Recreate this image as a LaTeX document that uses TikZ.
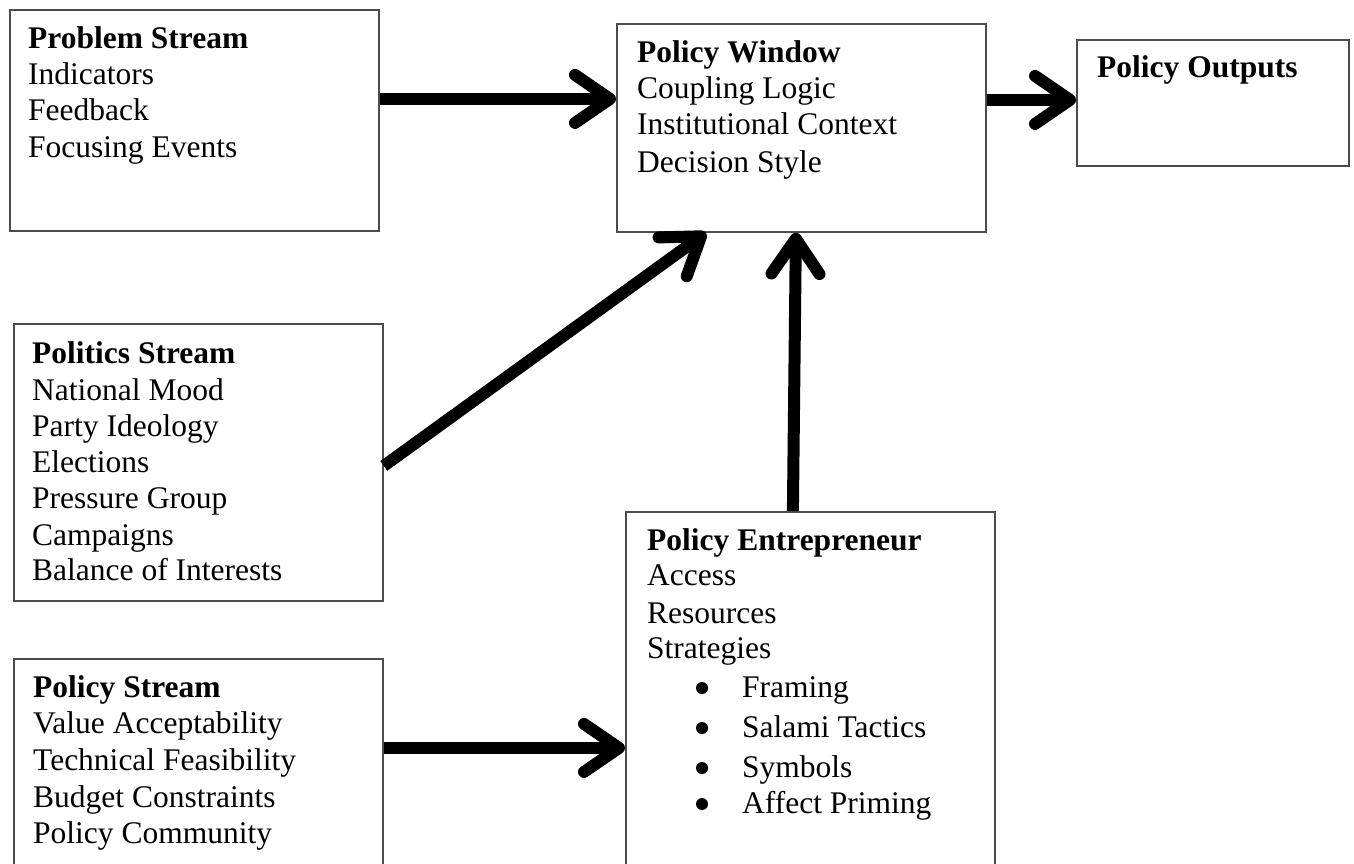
\documentclass[tikz,border=0pt]{standalone}
\usepackage{fontspec}
\setmainfont{Liberation Serif}
\usetikzlibrary{arrows.meta}
\begin{document}
\begin{tikzpicture}[x=1pt,y=-1pt,
  box/.style={draw=black!70, line width=1.8pt, rectangle, anchor=north west, inner sep=0pt},
  txt/.style={anchor=base west, inner sep=0pt, font=\fontsize{31.5}{36}\selectfont},
  head/.style={anchor=base west, inner sep=0pt, font=\fontsize{31.5}{36}\selectfont\bfseries},
  flow/.style={line width=12pt, -{Straight Barb[length=35pt,width=48pt,line cap=round,line join=round]}},
  bul/.style={circle, fill=black, inner sep=0pt, minimum size=12pt}]
\clip (0,0) rectangle (1354,863);
\fill[white] (0,0) rectangle (1354,863);

% boxes
\node[box, minimum width=369pt, minimum height=221pt] (prob) at (9,9) {};
\node[box, minimum width=369pt, minimum height=208pt] (win) at (616,23) {};
\node[box, minimum width=272pt, minimum height=126pt] (out) at (1076,39) {};
\node[box, minimum width=369pt, minimum height=277pt] (pol) at (13,323) {};
\node[box, minimum width=369pt, minimum height=380pt] (ent) at (625,511) {};
\node[box, minimum width=369pt, minimum height=233pt] (pst) at (13,658) {};

% Problem stream
\node[head] (prob-h) at (28,48) {Problem Stream};
\foreach \y/\t [count=\i] in {84/Indicators, 120/Feedback, 157/Focusing Events}
  \node[txt] (prob-\i) at (28,\y) {\t};

% Policy window
\node[head] (win-h) at (637,62) {Policy Window};
\foreach \y/\t [count=\i] in {98/Coupling Logic, 134/Institutional Context, 172/Decision Style}
  \node[txt] (win-\i) at (637,\y) {\t};

% Policy outputs
\node[head] (out-h) at (1097,77) {Policy Outputs};

% Politics stream
\node[head] (pol-h) at (32,363) {Politics Stream};
\foreach \y/\t [count=\i] in {400/National Mood, 436/Party Ideology, 472/Elections,
    508/Pressure Group, 545/Campaigns, 580/Balance of Interests}
  \node[txt] (pol-\i) at (32,\y) {\t};

% Policy entrepreneur, with a bulleted list of strategies
\node[head] (ent-h) at (647,550) {Policy Entrepreneur};
\foreach \y/\t [count=\i] in {585/Access, 623/Resources, 658/Strategies}
  \node[txt] (ent-\i) at (647,\y) {\t};
\foreach \y/\t [count=\i] in {697/Framing, 737/Salami Tactics, 777/Symbols, 813/Affect Priming}{
  \node[bul] (ent-b\i) at (702,\y-9) {};
  \node[txt] (ent-s\i) at (742,\y) {\t};
}

% Policy stream
\node[head] (pst-h) at (33,697) {Policy Stream};
\foreach \y/\t [count=\i] in {733/Value Acceptability, 770/Technical Feasibility,
    807/Budget Constraints, 843/Policy Community}
  \node[txt] (pst-\i) at (33,\y) {\t};

% connectors
\draw[flow] ([yshift=21.5pt]prob.east) -- ([yshift=29pt]win.west);
\draw[flow] ([yshift=28pt]win.east) -- ([yshift=3pt]out.west);
\draw[flow] ([yshift=-3.5pt]pol.east) -- ([xshift=-95.5pt]win.south);
\draw[flow] ([xshift=-17.5pt]ent.north) -- ([xshift=-5.5pt]win.south);
\draw[flow] ([yshift=27.5pt]pst.east) -- ([yshift=-46pt]ent.west);
\end{tikzpicture}
\end{document}
